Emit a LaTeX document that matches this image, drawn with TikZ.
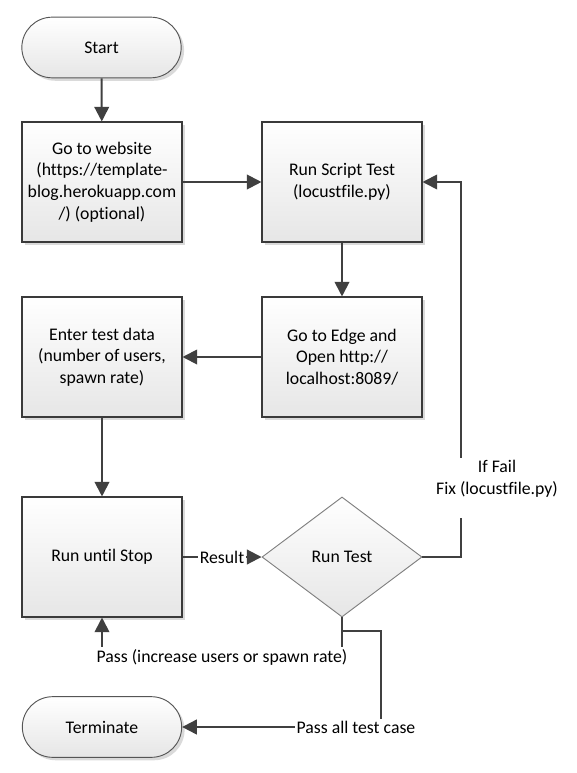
\documentclass[tikz,border=0pt]{standalone}
\usepackage{fontspec}
\setmainfont{Carlito}[Ligatures={NoCommon}]
\usetikzlibrary{shapes.geometric,arrows.meta,shadows}
\definecolor{conncol}{HTML}{404040}
\definecolor{boxline}{HTML}{3A3A3A}
\definecolor{termline}{HTML}{555555}
\definecolor{decline}{HTML}{808080}
\definecolor{shadecol}{HTML}{E6E6E6}
\definecolor{shadowcol}{HTML}{DADADA}
\begin{document}
\begin{tikzpicture}[x=0.75pt,y=-0.75pt,
  every node/.style={font=\fontsize{13.3pt}{16.2pt}\selectfont, text=black},
  myshadow/.style={drop shadow={shadow xshift=2.2pt, shadow yshift=-2.2pt, fill=shadowcol, opacity=1}},
  procbox/.style={rectangle, draw=boxline, line width=0.8pt, minimum width=120pt, minimum height=90pt,
    inner sep=0pt, align=center, top color=white, bottom color=shadecol, myshadow},
  termbox/.style={rectangle, rounded corners=22.8pt, draw=termline, line width=0.7pt, minimum width=119.5pt,
    minimum height=45.5pt, inner sep=0pt, align=center, top color=white, bottom color=shadecol, myshadow},
  decbox/.style={diamond, aspect=1.3333, draw=decline, line width=0.7pt, minimum width=120pt, minimum height=90pt,
    inner sep=0pt, align=center, top color=white, bottom color=shadecol},
  conn/.style={draw=conncol, line width=1.5pt, -{Triangle[length=11pt,width=11pt]}},
  lbl/.style={fill=white, inner sep=1.5pt, align=center}
]
\useasboundingbox (0,0) rectangle (576,773);

\node[termbox] (start) at (101.5,47.5) {Start};
\node[procbox] (web) at (102,182) {Go to website\\(https://template-\\blog.herokuapp.com\\/) (optional)};
\node[procbox] (script) at (342,182) {Run Script Test\\(locustfile.py)};
\node[procbox] (edge) at (342,357) {Go to Edge and\\Open http://\\localhost:8089/};
\node[procbox] (data) at (102,357) {Enter test data\\(number of users,\\spawn rate)};
\node[procbox] (run) at (102,557) {Run until Stop};
\node[decbox] (dec) at (342,557) {Run Test};
\node[termbox] (term) at (102,727) {Terminate};

\coordinate (passR) at (342,657);
\coordinate (passL) at (102,657);
\coordinate (j1) at (342,631);
\coordinate (j2) at (381,631);
\coordinate (j3) at (381,727);
\coordinate (f1) at (461,557);
\coordinate (f2) at (461,182);

\draw[conn] (start) -- (web);
\draw[conn] (web) -- (script);
\draw[conn] (script) -- (edge);
\draw[conn] (edge) -- (data);
\draw[conn] (data) -- (run);
\draw[conn] (run) -- node[lbl] (reslbl) {Result} (dec);
\draw[conn] (dec.south) -- (passR) -- node[lbl] (passlbl) {Pass (increase users or spawn rate)} (passL) -- (run.south);
\draw[conn] (dec.south) -- (j1) -- (j2) -- (j3) -- node[lbl, pos=0.126] (alllbl) {Pass all test case} (term.east);
\draw[conn] (dec.east) -- (f1) -- (f2) -- (script.east);
\node[lbl] (faillbl) at (497,488) {If Fail\\Fix (locustfile.py)\\\mbox{}};
\end{tikzpicture}
\end{document}
